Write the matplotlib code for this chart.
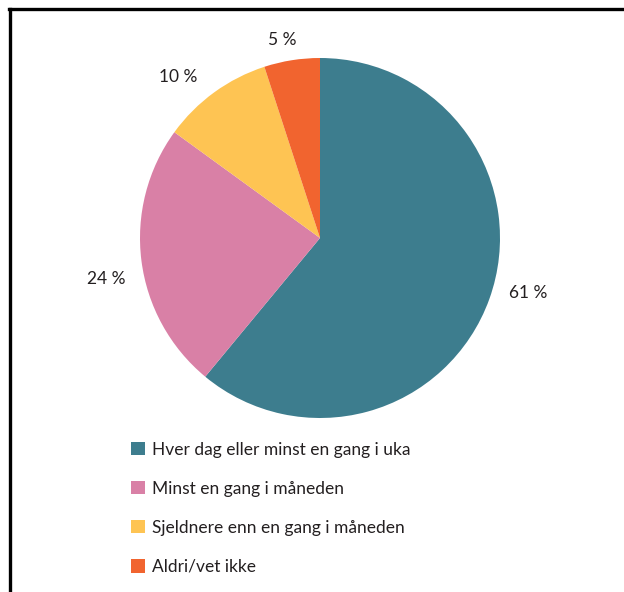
import matplotlib
matplotlib.use("Agg")
import matplotlib.pyplot as plt
from matplotlib.lines import Line2D
from matplotlib.patches import Patch

CATEGORIES = [
    "Hver dag eller minst en gang i uka",
    "Minst en gang i måneden",
    "Sjeldnere enn en gang i måneden",
    "Aldri/vet ikke",
]
SHARES = [61, 24, 10, 5]
COLORS = ["#3d7d8e", "#d980a6", "#fec453", "#f1642f"]

plt.rcParams["font.family"] = ["Lato", "DejaVu Sans"]
TEXT_COLOR = "#231f20"
FS = 12.5

# where the percentage labels sit, in pie-radius units
LABEL_POS = [(1.156, -0.306), (-1.189, -0.228), (-0.789, 0.894), (-0.211, 1.10)]

fig = plt.figure(figsize=(6.24, 5.92), dpi=100)

# pie axes: centre at (320, 238) px, radius 180 px
W, H = 624, 592
half = 270
ax = fig.add_axes([(320 - half) / W, (H - 238 - half) / H, 2 * half / W, 2 * half / H])

wedges, texts = ax.pie(
    SHARES,
    colors=COLORS,
    startangle=90,
    counterclock=False,
    labels=[f"{v} %" for v in SHARES],
    wedgeprops={"linewidth": 0},
    textprops={"fontsize": FS, "color": TEXT_COLOR},
)
for t, pos in zip(texts, LABEL_POS):
    t.set_position(pos)
    t.set_ha("center")
    t.set_va("center")
# pie() resets the limits, so set them afterwards
ax.set_xlim(-1.5, 1.5)
ax.set_ylim(-1.5, 1.5)
ax.set_aspect("equal")
ax.axis("off")

handles = [Patch(facecolor=c, edgecolor="none") for c in COLORS]
fig.legend(
    handles, CATEGORIES,
    loc="upper left", bbox_to_anchor=(115 / W, 1 - 426 / H),
    frameon=False, fontsize=FS,
    handlelength=0.8, handleheight=0.8, handletextpad=0.45,
    labelspacing=1.33, labelcolor=TEXT_COLOR,
)

# partial frame: top and left edges only
fig.add_artist(Line2D([9 / W, 1], [1 - 8.5 / H, 1 - 8.5 / H], color="black",
                      lw=2.4, transform=fig.transFigure))
fig.add_artist(Line2D([10 / W, 10 / W], [0, 1 - 8.5 / H], color="black",
                      lw=2.4, transform=fig.transFigure))

fig.savefig("out.png", dpi=100)
